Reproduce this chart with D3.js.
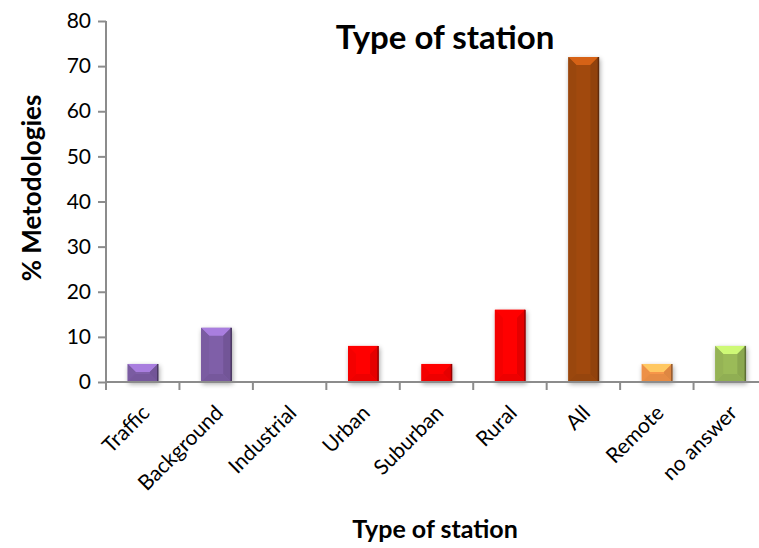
<!DOCTYPE html>
<html><head><meta charset="utf-8">
<script src="https://cdn.jsdelivr.net/npm/d3@7"></script>
<style>
html,body{margin:0;padding:0;background:#fff;}
svg{display:block;font-family:Lato,"Open Sans",sans-serif;}
</style></head>
<body>
<svg id="chart" width="759" height="548"></svg>
<script>
const categories = ["Traffic","Background","Industrial","Urban","Suburban","Rural","All","Remote","no answer"];
const values = [4,12,0,8,4,16,72,4,8];
const colors = ["#7f5fa8","#7f5fa8","#7f5fa8","#ff0000","#ff0000","#ff0000","#a14a0f","#f7964a","#9bbb59"];
const yTicks = [0,10,20,30,40,50,60,70,80];

const svg = d3.select("#chart");
const x = d3.scaleBand().domain(categories).range([106,767]).paddingInner(0.59).paddingOuter(0.295);
const y = d3.scaleLinear().domain([0,80]).range([382,21]);

const defs = svg.append("defs");
const f = defs.append("filter").attr("id","sh").attr("x","-30%").attr("y","-30%").attr("width","160%").attr("height","160%");
f.append("feGaussianBlur").attr("in","SourceAlpha").attr("stdDeviation",2.5);
f.append("feOffset").attr("dx",1).attr("dy",2).attr("result","b");
f.append("feComponentTransfer").append("feFuncA").attr("type","linear").attr("slope",0.35);
const fm = f.append("feMerge"); fm.append("feMergeNode"); fm.append("feMergeNode").attr("in","SourceGraphic");

// y axis
const yAxis = svg.append("g").attr("transform","translate(106,0)")
  .call(d3.axisLeft(y).tickValues(yTicks).tickSize(8).tickPadding(7));
yAxis.select(".domain").attr("stroke","#8c8c8c").attr("stroke-width",2).attr("d","M0,21V382");
yAxis.selectAll(".tick line").attr("stroke","#8c8c8c").attr("stroke-width",2);
yAxis.selectAll(".tick text").attr("font-size",21).attr("fill","#000").attr("font-family","Lato,sans-serif");

// bars
const bw = x.bandwidth();
const g = svg.append("g");
categories.forEach((c,i)=>{
  const v = values[i];
  if (v<=0) return;
  const x0 = x(c), x1 = x0+bw, y0 = y(v), y1 = y(0);
  const h = y1-y0;
  const col = d3.color(colors[i]);
  const b = Math.min(8, bw/2, h/2);
  const bg = g.append("g").attr("filter","url(#sh)");
  bg.append("rect").attr("x",x0).attr("y",y0).attr("width",bw).attr("height",h).attr("fill",col.formatHex());
  bg.append("polygon").attr("points",`${x0},${y0} ${x1},${y0} ${x1-b},${y0+b} ${x0+b},${y0+b}`)
    .attr("fill",col.brighter(0.8).formatHex());
  bg.append("polygon").attr("points",`${x0},${y0} ${x0+b},${y0+b} ${x0+b},${y1-b} ${x0},${y1}`)
    .attr("fill",col.darker(0.12).formatHex());
  bg.append("polygon").attr("points",`${x1},${y0} ${x1-b},${y0+b} ${x1-b},${y1-b} ${x1},${y1}`)
    .attr("fill",col.darker(0.3).formatHex());
  bg.append("polygon").attr("points",`${x0},${y1} ${x0+b},${y1-b} ${x1-b},${y1-b} ${x1},${y1}`)
    .attr("fill",col.darker(0.2).formatHex());
  bg.append("line").attr("x1",x1).attr("x2",x1).attr("y1",y0).attr("y2",y1).attr("stroke",col.darker(1.5).formatHex()).attr("stroke-width",1.5);
});

// x axis
const xAxis = svg.append("g").attr("transform","translate(0,382)")
  .call(d3.axisBottom(x).tickSize(0).tickFormat(""));
xAxis.select(".domain").attr("stroke","#8c8c8c").attr("stroke-width",2).attr("d","M106,0H759");
const bounds = [106].concat(categories.map(c=>x(c)+bw/2+x.step()/2));
xAxis.selectAll("line.sep").data(bounds).enter().append("line").attr("class","sep")
  .attr("x1",d=>d).attr("x2",d=>d).attr("y1",0).attr("y2",8).attr("stroke","#8c8c8c").attr("stroke-width",2);
svg.append("g").selectAll("text").data(categories).enter().append("text")
  .attr("transform",c=>`translate(${x(c)+bw/2+3},${409}) rotate(-45)`)
  .attr("text-anchor","end").attr("dy","0.35em")
  .attr("font-size",21).attr("fill","#000").text(d=>d);

// titles
svg.append("text").attr("x",445).attr("y",49).attr("text-anchor","middle")
  .attr("font-size",33).attr("font-weight","bold").attr("fill","#000").text("Type of station");
svg.append("text").attr("x",435).attr("y",538).attr("text-anchor","middle")
  .attr("font-size",25).attr("font-weight","bold").attr("fill","#000").text("Type of station");
svg.append("text").attr("transform","translate(41,188) rotate(-90)").attr("text-anchor","middle")
  .attr("font-size",26).attr("font-weight","bold").attr("fill","#000").text("% Metodologies");
</script>
</body></html>
